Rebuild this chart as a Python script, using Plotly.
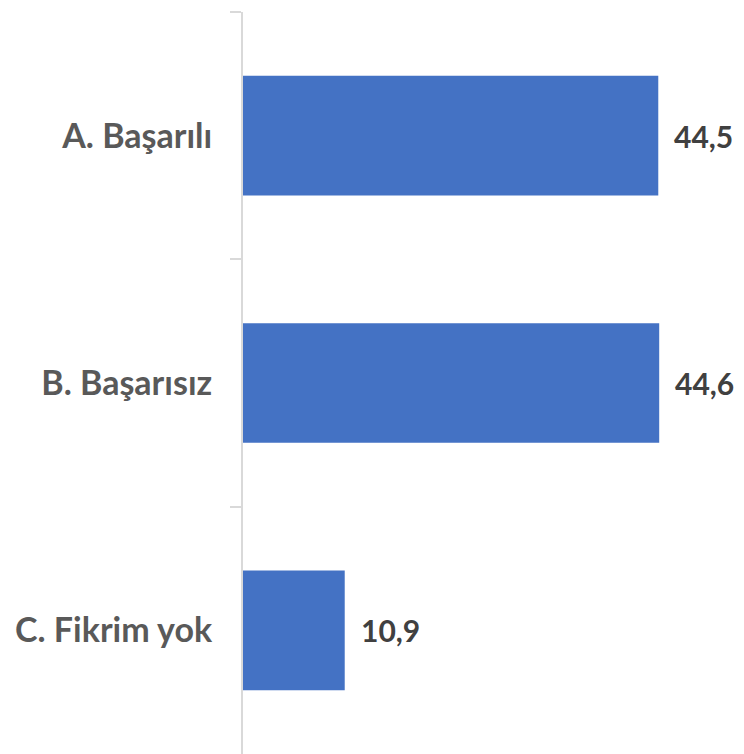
import plotly.graph_objects as go

categories = ["A. Başarılı", "B. Başarısız", "C. Fikrim yok"]
values = [44.5, 44.6, 10.9]
value_labels = ["44,5", "44,6", "10,9"]

fig = go.Figure()
fig.add_trace(go.Bar(
    y=categories,
    x=values,
    orientation="h",
    marker=dict(color="#4472C4", line=dict(width=0)),
    hoverinfo="skip",
))

for c, v, t in zip(categories, values, value_labels):
    fig.add_annotation(
        x=v, y=c, text=f"<b>{t}</b>", showarrow=False,
        xanchor="left", yanchor="middle", xshift=14,
        font=dict(family="Lato", size=30, color="#404040"),
    )

fig.update_layout(
    width=728, height=746,
    margin=dict(l=235, r=4, t=4, b=0),
    plot_bgcolor="white", paper_bgcolor="white",
    bargap=0.516,
    showlegend=False,
    font=dict(family="Lato"),
)
fig.update_xaxes(range=[0, 52.4], visible=False, showgrid=False, zeroline=False)
fig.update_yaxes(
    autorange="reversed",
    showline=True, linecolor="#d9d9d9", linewidth=2,
    ticks="outside", ticklen=11, tickcolor="#d9d9d9", tickwidth=2,
    tickson="boundaries",
    ticklabelstandoff=22,
    showgrid=False, zeroline=False,
    tickfont=dict(family="Lato", size=34, color="#595959", weight="bold"),
)

fig.write_html("out.html")
